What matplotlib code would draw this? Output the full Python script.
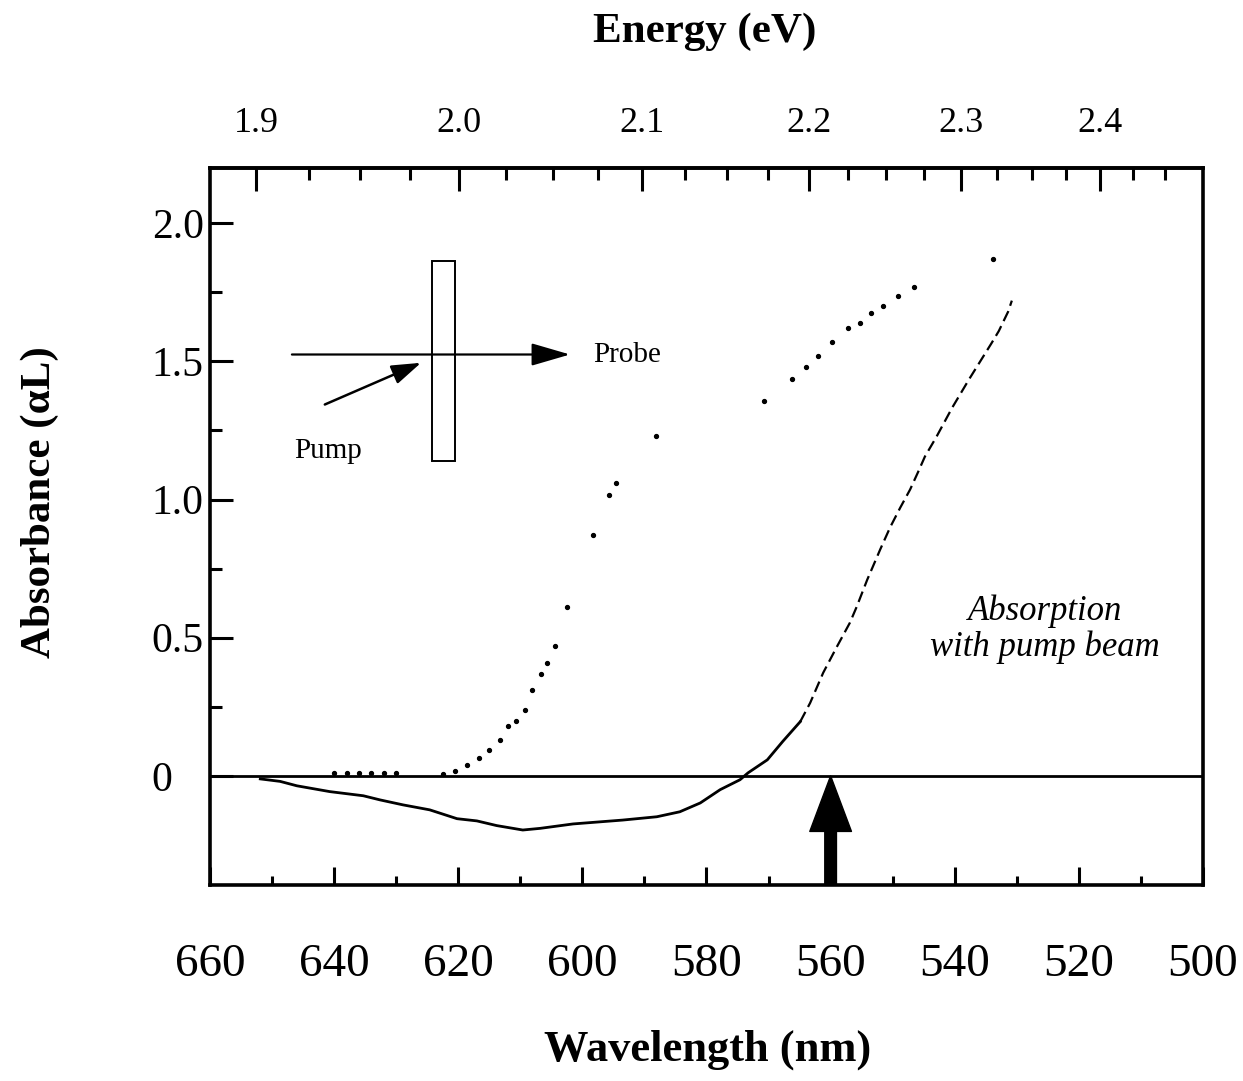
import matplotlib
matplotlib.use('Agg')
import matplotlib.pyplot as plt
import numpy as np
from matplotlib.patches import Rectangle
from matplotlib.ticker import FixedLocator

plt.rcParams['font.family'] = ['Liberation Serif', 'DejaVu Serif']

# ---------------- data ----------------
# absorption without pump (dotted)
wl_nopump = [640, 638, 636, 634, 632, 630, 622.5, 620.5, 618.6, 616.7, 615.0, 613.3,
             612.0, 610.7, 609.2, 608.1, 606.7, 605.7, 604.4, 602.5, 598.3, 595.7,
             594.6, 588.1, 570.7, 566.2, 564.0, 562.0, 559.8, 557.2, 555.3, 553.5,
             551.6, 549.1, 546.6, 533.8]
a_nopump = [0.01, 0.012, 0.01, 0.012, 0.01, 0.01, 0.005, 0.018, 0.04, 0.065, 0.094, 0.13,
            0.18, 0.20, 0.24, 0.31, 0.37, 0.41, 0.47, 0.61, 0.87, 1.015,
            1.06, 1.23, 1.355, 1.435, 1.478, 1.518, 1.569, 1.62, 1.64, 1.674,
            1.70, 1.735, 1.77, 1.87]

# absorption with pump beam (solid / broken)
wl_pump = [651.9, 648.7, 646.0, 640.7, 635.3, 632.6, 628.9, 624.6, 620.2, 617.0,
           613.8, 609.6, 606.8, 601.5, 593.5, 588.0, 584.3, 581.0, 577.8, 574.6,
           573.3, 570.2, 567.7, 564.9, 563.3, 561.2, 559.0, 556.9, 555.8, 554.1,
           553.2, 552.0, 550.4, 548.8, 547.2, 545.9, 544.8, 543.0, 540.4, 537.7,
           535.9, 534.1, 532.9, 531.4, 530.8]
a_pump = [-0.011, -0.02, -0.036, -0.057, -0.072, -0.087, -0.105, -0.123, -0.155, -0.163,
          -0.18, -0.196, -0.19, -0.174, -0.16, -0.148, -0.13, -0.098, -0.05, -0.014,
          0.011, 0.058, 0.125, 0.196, 0.264, 0.373, 0.467, 0.554, 0.612, 0.71,
          0.757, 0.82, 0.90, 0.97, 1.036, 1.10, 1.156, 1.225, 1.333, 1.435,
          1.50, 1.565, 1.61, 1.68, 1.72]

pump_wavelength = 560
wl_major = [660, 640, 620, 600, 580, 560, 540, 520, 500]
wl_minor = [650, 630, 610, 590, 570, 550, 530, 510]
energy_major = [1.9, 2.0, 2.1, 2.2, 2.3, 2.4]
energy_minor = [1.925, 1.95, 1.975, 2.025, 2.05, 2.075, 2.125, 2.15, 2.175,
                2.225, 2.25, 2.275, 2.325, 2.35, 2.375, 2.425, 2.45]
abs_major = [0, 0.5, 1.0, 1.5, 2.0]
abs_major_labels = ['0', '0.5', '1.0', '1.5', '2.0']
abs_minor = [0.25, 0.75, 1.25, 1.75]

# ---------------- figure ----------------
W, H = 1243, 1081
fig = plt.figure(figsize=(W / 100, H / 100), dpi=100)
ax = fig.add_axes([210 / W, 1 - 885 / H, (1203 - 210) / W, (885 - 168) / H])
ax.set_xlim(660, 500)
ax.set_ylim(-0.395, 2.2)

for s in ax.spines.values():
    s.set_linewidth(2.6)

# zero line
ax.axhline(0, color='black', lw=2.0, zorder=2)

# curves
wlp = np.array(wl_pump)
ap = np.array(a_pump)
solid_mask = wlp >= 564.5
ax.plot(wlp[solid_mask], ap[solid_mask], color='black', lw=2.0,
        solid_joinstyle='round')
k = np.argmin(solid_mask) - 1
ax.plot(wlp[k:], ap[k:], color='black', lw=1.6, ls=(0, (5, 2.5)))
ax.plot(wl_nopump, a_nopump, ls='none', marker='o', ms=2.8, color='black')

# pump arrow on the axis
ax.annotate('', xy=(pump_wavelength, 0), xytext=(pump_wavelength, -0.395),
            arrowprops=dict(arrowstyle='simple,head_length=2.0,head_width=1.5,tail_width=0.42',
                            mutation_scale=20, color='black', shrinkA=0, shrinkB=0),
            zorder=3)

# inset schematic
ax.add_patch(Rectangle((620.5, 1.141), 3.7, 0.721, fill=False, ec='black', lw=1.4))
ax.annotate('', xy=(602.0, 1.525), xytext=(646.8, 1.525),
            arrowprops=dict(arrowstyle='-|>,head_length=1.2,head_width=0.35',
                            mutation_scale=20, color='black', lw=1.6,
                            shrinkA=0, shrinkB=0))
ax.annotate('', xy=(626.0, 1.495), xytext=(641.5, 1.344),
            arrowprops=dict(arrowstyle='-|>,head_length=0.9,head_width=0.3',
                            mutation_scale=20, color='black', lw=1.8,
                            shrinkA=0, shrinkB=0))
ax.text(598.3, 1.525, 'Probe', fontsize=21, ha='left', va='center')
ax.text(641.0, 1.174, 'Pump', fontsize=21, ha='center', va='center')

ax.text(525.5, 0.53, 'Absorption\nwith pump beam', fontsize=25, style='italic',
        ha='center', va='center', linespacing=1.1)

# bottom / left ticks
ax.set_xticks(wl_major)
ax.set_xticks(wl_minor, minor=True)
ax.set_yticks(abs_major)
ax.set_yticklabels(abs_major_labels)
ax.set_yticks(abs_minor, minor=True)
ax.tick_params(axis='x', which='major', direction='in', length=13, width=2.2,
               pad=42, labelsize=34, top=False)
ax.tick_params(axis='x', which='minor', direction='in', length=6.5, width=2.2, top=False)
ax.tick_params(axis='y', which='major', direction='in', length=16.5, width=2.2,
               pad=42, labelsize=30, right=False)
ax.tick_params(axis='y', which='minor', direction='in', length=8.5, width=2.2, right=False)
for lbl in ax.get_yticklabels():
    lbl.set_ha('left')

# top energy axis
HC = 1239.84


def conv(x):
    x = np.asarray(x, dtype=float)
    with np.errstate(divide='ignore'):
        return HC / x


sec = ax.secondary_xaxis('top', functions=(conv, conv))
sec.set_xticks(energy_major)
sec.xaxis.set_minor_locator(FixedLocator(energy_minor))
sec.set_xticklabels([f'{e:.1f}' for e in energy_major])
sec.tick_params(axis='x', which='major', direction='in', length=16.5, width=2.2,
                pad=20, labelsize=26)
sec.tick_params(axis='x', which='minor', direction='in', length=8.5, width=2.2)
sec.spines['top'].set_linewidth(2.6)

# axis titles
fig.text(705 / W, 1 - 32 / H, 'Energy (eV)', fontsize=31, fontweight='bold',
         ha='center', va='center')
fig.text(708 / W, 1 - 1050 / H, 'Wavelength (nm)', fontsize=32, fontweight='bold',
         ha='center', va='center')
fig.text(40 / W, 1 - 502 / H, 'Absorbance (\u03b1L)', fontsize=31, fontweight='bold',
         ha='center', va='center', rotation=90)

fig.savefig('out.png', dpi=100)
